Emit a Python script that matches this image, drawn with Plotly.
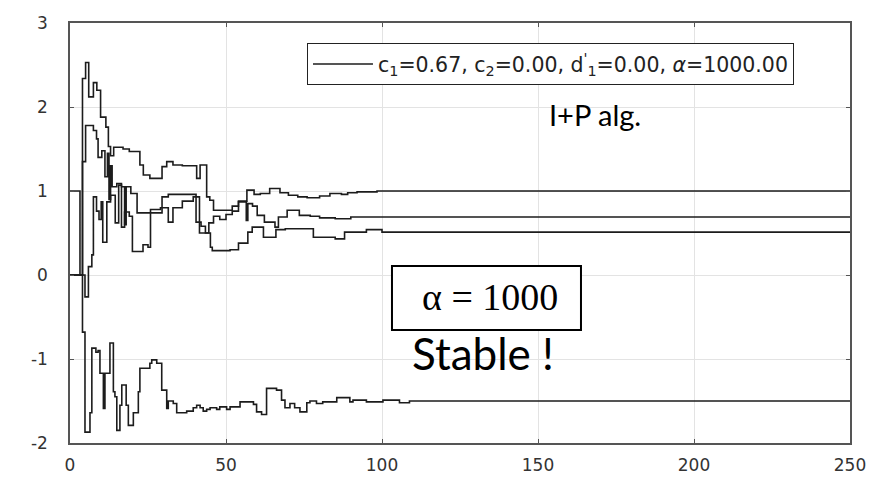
import plotly.graph_objects as go

# ---- data (step breakpoints) ----
x1 = [0, 4, 5, 6, 7.5, 8.6, 9.8, 11.5, 12.3, 13, 14, 17, 19, 22.4, 23.5, 25.6, 29.5, 31, 33, 36,
      40.6, 41.7, 43.8, 44.8, 46, 52, 54, 56.7, 59, 61, 64, 67.3, 70, 73, 76, 80, 83.3, 87, 89, 92,
      98.4, 110, 250]
y1 = [0, 2.34, 2.53, 2.12, 2.29, 2.2, 1.88, 1.76, 1.53, 1.42, 1.52, 1.50, 1.47, 1.31, 1.19, 1.15,
      1.29, 1.35, 1.31, 1.30, 1.15, 1.31, 0.93, 0.89, 0.77, 0.82, 0.88, 1.01, 0.96, 0.97, 1.03, 0.98,
      0.95, 0.93, 0.92, 0.94, 0.97, 0.96, 0.98, 0.99, 1.0, 1.0, 1.0]

x2 = [0, 4, 5, 7.5, 8.5, 9, 10.2, 11.2, 12, 12.5, 13, 13.5, 15, 16.5, 17.5, 18, 19.5, 21.5, 29.5,
      31.5, 40.4, 42, 43.4, 44.5, 46, 48, 50, 52, 54, 56.5, 57, 58.5, 60, 62.3, 65.7, 66.8, 69.6,
      73.5, 77, 80, 85, 90, 250]
y2 = [0, 1.35, 1.78, 1.72, 1.62, 1.40, 1.48, 1.17, 1.45, 0.90, 1.30, 1.05, 1.09, 1.05, 0.60, 1.05,
      0.97, 0.74, 0.93, 0.96, 0.63, 0.58, 0.50, 0.62, 0.70, 0.66, 0.72, 0.76, 0.87, 0.65, 0.85, 0.82,
      0.71, 0.63, 0.57, 0.69, 0.77, 0.71, 0.70, 0.68, 0.67, 0.69, 0.69]

x3 = [0, 3.2, 4.8, 5.9, 7, 7.5, 8.5, 9.3, 10, 10.5, 11.8, 13, 14.5, 15.6, 16.5, 17.5, 19, 20, 23.4,
      25, 25.8, 29, 31.5, 33, 36, 39.5, 41.5, 45, 45.6, 51.3, 54, 57, 58.4, 62, 66, 69, 78, 85, 88,
      95, 100, 250]
y3 = [1.0, 0.0, -0.26, 0.10, 0.24, 0.93, 0.76, 0.66, 0.87, 0.39, 0.87, 0.95, 0.62, 1.07, 0.57, 0.75,
      0.70, 0.28, 0.36, 0.33, 0.78, 0.80, 0.63, 0.80, 0.88, 0.93, 0.50, 0.33, 0.29, 0.30, 0.38, 0.51,
      0.57, 0.45, 0.54, 0.55, 0.45, 0.43, 0.51, 0.54, 0.51, 0.50]

x4 = [0, 4, 4.8, 6.4, 7, 8.3, 9, 9.6, 10.7, 11.2, 12.8, 13.9, 14.4, 15, 16, 16.6, 18, 18.7, 20.3,
      21.9, 22.4, 25.6, 26.2, 27.8, 29.4, 31, 31.5, 33.1, 34.2, 37.4, 39.5, 40.6, 41.7, 42.7, 43.8,
      44.9, 47, 48, 50.2, 51.3, 54.5, 58.8, 59.8, 61.4, 63, 66.2, 67.8, 68.9, 70.5, 72, 73.7, 75.9,
      76.9, 79, 81, 85.5, 89.7, 90.7, 95, 100.3, 105.6, 108.8, 250]
y4 = [0, -0.68, -1.87, -1.64, -0.87, -0.92, -0.90, -1.17, -1.59, -1.17, -0.81, -1.39, -1.45, -1.85,
      -1.55, -1.31, -1.55, -1.79, -1.64, -1.39, -1.11, -1.05, -1.01, -1.05, -1.37, -1.59, -1.50,
      -1.53, -1.64, -1.62, -1.58, -1.55, -1.58, -1.62, -1.60, -1.58, -1.60, -1.57, -1.60, -1.57,
      -1.51, -1.54, -1.63, -1.66, -1.35, -1.37, -1.49, -1.58, -1.53, -1.58, -1.63, -1.52, -1.50,
      -1.53, -1.51, -1.46, -1.51, -1.49, -1.51, -1.49, -1.52, -1.50, -1.50]

x_ticks = [0, 50, 100, 150, 200, 250]
x_tick_labels = ["0", "50", "100", "150", "200", "250"]
y_ticks = [-2, -1, 0, 1, 2, 3]
y_tick_labels = ["-2", "-1", "0", "1", "2", "3"]
legend_text = "c<sub>1</sub>=0.67, c<sub>2</sub>=0.00, d<sup>'</sup><sub>1</sub>=0.00, <i>α</i>=1000.00"

LINE = "#1c1c1c"
fig = go.Figure()
series = [(x1, y1), (x2, y2), (x3, y3), (x4, y4)]
for i, (xs, ys) in enumerate(series):
    fig.add_trace(go.Scatter(
        x=xs, y=ys, mode="lines", line=dict(color=LINE, width=1.6, shape="hv"),
        name=legend_text, showlegend=(i == 0)))

axis_common = dict(showgrid=True, gridcolor="#e3e3e3", gridwidth=1.3, automargin=False,
                   showline=True, linecolor="#555555", linewidth=1.5, mirror="ticks",
                   ticks="inside", ticklen=4, tickcolor="#555555", zeroline=False,
                   tickfont=dict(family="DejaVu Sans", size=17, color="#333333"))
fig.update_xaxes(range=[0, 250], tickvals=x_ticks, ticktext=x_tick_labels,
                 ticklabelstandoff=6, **axis_common)
fig.update_yaxes(range=[-2, 3], tickvals=y_ticks, ticktext=y_tick_labels,
                 ticklabelstandoff=17, **axis_common)

# the page body adds an 8px offset; the figure is sized so the plot area lands
# at 70..850 (x) and 23..443 (y) in the window
fig.update_layout(
    width=868, height=475, plot_bgcolor="white", paper_bgcolor="white",
    margin=dict(l=62, r=26, t=15, b=40, autoexpand=False),
    showlegend=True,
    legend=dict(x=0.3038, y=0.952, xanchor="left", yanchor="top",
                bordercolor="#222222", borderwidth=1, bgcolor="white",
                font=dict(family="DejaVu Sans", size=20.5, color="#222222"),
                itemwidth=60),
)

# boxed alpha label
fig.add_shape(type="rect", xref="paper", yref="paper", x0=0.4128, x1=0.6551, y0=0.269, y1=0.4214,
              line=dict(color="black", width=2), fillcolor="white", layer="above")
fig.add_annotation(xref="paper", yref="paper", x=0.5385, y=0.3476, text="α = 1000", showarrow=False,
                   xanchor="center", yanchor="middle",
                   font=dict(family="Liberation Serif", size=38, color="black"))
fig.add_annotation(xref="paper", yref="paper", x=0.530, y=0.215, text="Stable !", showarrow=False,
                   xanchor="center", yanchor="middle",
                   font=dict(family="Lato", size=44, color="black"))
fig.add_annotation(xref="paper", yref="paper", x=0.673, y=0.781, text="I+P alg.", showarrow=False,
                   xanchor="center", yanchor="middle",
                   font=dict(family="Lato", size=29, color="black"))

fig.write_html("out.html")
